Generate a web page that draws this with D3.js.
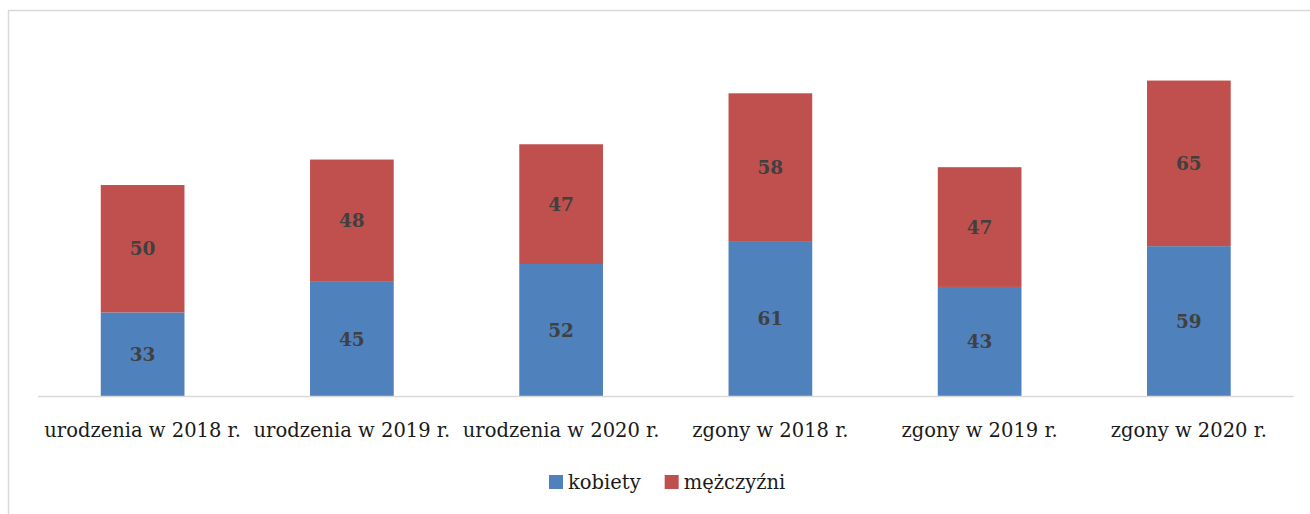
<!DOCTYPE html>
<html><head><meta charset="utf-8">
<script src="https://cdn.jsdelivr.net/npm/d3@7"></script>
<style>body{margin:0;background:#fff}svg{display:block}
svg text{font-family:"DejaVu Serif",serif}</style>
</head><body>
<script>
const categories = ["urodzenia w 2018 r.","urodzenia w 2019 r.","urodzenia w 2020 r.","zgony w 2018 r.","zgony w 2019 r.","zgony w 2020 r."];
const kobiety = [33,45,52,61,43,59];
const mezczyzni = [50,48,47,58,47,65];
const seriesNames = ["kobiety","mężczyźni"];
const colors = ["#4F81BD","#C0504D"];

const W=1310,H=514;
const svg=d3.select("body").append("svg").attr("width",W).attr("height",H);
svg.append("rect").attr("x",8.5).attr("y",10.5).attr("width",W+10).attr("height",H+10)
  .attr("fill","#fff").attr("stroke","#d9d9d9").attr("stroke-width",1.5);

const x=d3.scaleBand().domain(categories).range([38,1293.5]).paddingInner(0.6).paddingOuter(0.3);
const y=d3.scaleLinear().domain([0,140]).range([396.5,39.8]);

const data=categories.map((c,i)=>({c,kobiety:kobiety[i],"mężczyźni":mezczyzni[i]}));
const stack=d3.stack().keys(seriesNames)(data);

const g=svg.append("g");
stack.forEach((s,si)=>{
  g.selectAll(null).data(s).enter().append("rect")
    .attr("x",d=>x(d.data.c)).attr("width",x.bandwidth())
    .attr("y",d=>y(d[1])).attr("height",d=>y(d[0])-y(d[1]))
    .attr("fill",colors[si]);
  g.selectAll(null).data(s).enter().append("text")
    .attr("x",d=>x(d.data.c)+x.bandwidth()/2)
    .attr("y",d=>(y(d[0])+y(d[1]))/2)
    .attr("dy","0.36em").attr("text-anchor","middle")
    .attr("font-weight","bold").attr("font-size",18.5)
    .attr("fill","#404040").text(d=>d[1]-d[0]);
});

const axis=d3.axisBottom(x).tickSize(0).tickPadding(0);
const ax=svg.append("g").attr("transform","translate(0,396.5)").call(axis);
ax.attr("font-family",null);
ax.select(".domain").attr("stroke","#d9d9d9").attr("stroke-width",1.5).attr("d","M38,0H1293.5");
ax.selectAll(".tick text").attr("font-size",19.5)
  .attr("fill","#1a1a1a").attr("dy",null).attr("y",40.5);

const leg=svg.append("g").attr("font-size",19.5);
let lx=549;
seriesNames.forEach((n,i)=>{
  leg.append("rect").attr("x",lx).attr("y",475).attr("width",14).attr("height",14).attr("fill",colors[i]);
  const t=leg.append("text").attr("x",lx+19).attr("y",489).attr("fill","#1a1a1a").text(n);
  lx=lx+19+t.node().getComputedTextLength()+24;
});
</script>
</body></html>
